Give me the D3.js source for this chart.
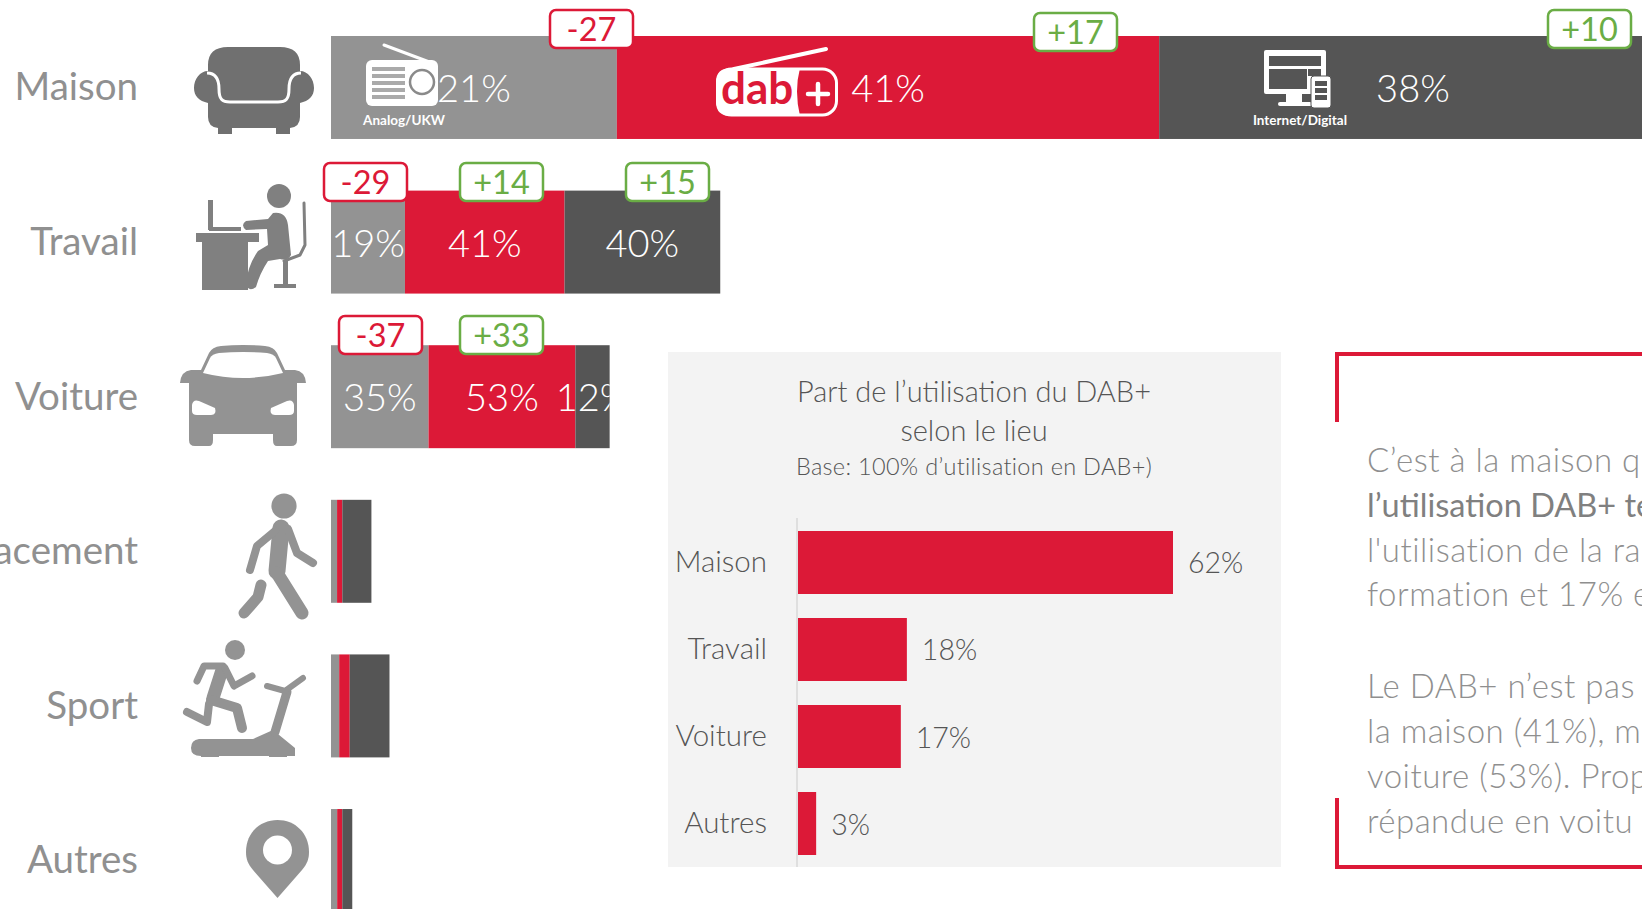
<!DOCTYPE html>
<html>
<head>
<meta charset="utf-8">
<script src="https://cdn.jsdelivr.net/npm/d3@7"></script>
<style>
    html, body { margin: 0; padding: 0; background: #fff; overflow: hidden; }
    svg { display: block; }
    text { font-family: Lato, "Open Sans", sans-serif; }
</style>
</head>
<body>
<div id="chart"></div>
<script>
// rows of the big stacked chart
var places = ["Maison", "Travail", "Voiture", "Déplacement", "Sport", "Autres"];
// length of each bar, share of all radio use
var totalUse = [62.8, 18.3, 13.1, 1.9, 2.75, 1];
// split of each bar in %
var analogShare = [21.4, 19, 35, 15, 14, 29];
var dabShare = [40.6, 41, 52.7, 13, 18, 24];
var internetShare = [38, 40, 12.3, 72, 68, 47];

// change badges: row, value
var badgeRows = [0, 0, 0, 1, 1, 1, 2, 2];
var badgeValues = [-27, 17, 10, -29, 14, 15, -37, 33];

// inset chart
var insetPlaces = ["Maison", "Travail", "Voiture", "Autres"];
var insetValues = [62, 18, 17, 3];

var titleLines = ["Part de l’utilisation du DAB+", "selon le lieu"];
var titleBase = "Base: 100% d’utilisation en DAB+)";

// text on the right, cut by the page edge
var noteLines = [
    { text: "C’est à la maison q", bold: false },
    { text: "l’utilisation DAB+ te", bold: true },
    { text: "l'utilisation de la ra", bold: false },
    { text: "formation et 17% e", bold: false },
    { text: "Le DAB+ n’est pas l", bold: false },
    { text: "la maison (41%), m", bold: false },
    { text: "voiture (53%). Prop", bold: false },
    { text: "répandue en voitu", bold: false }
];

(function() {

    var width = 1642,
        height = 909;

    var grey = "#939393",
        red = "#dc1937",
        dark = "#555555",
        green = "#6aad45",
        labelGrey = "#909090";

    var svg = d3.select("#chart")
        .append("svg")
        .attr("width", width)
        .attr("height", height);

    var defs = svg.append("defs");

    var barX = d3.scaleLinear().domain([0, 1]).range([331, 352.27]);
    var rowY = d3.scaleBand()
        .domain(places)
        .range([36, 912])
        .paddingInner(0.334);

    drawBars();
    drawIcons();
    drawBadges();
    drawInset();
    drawNote();

    function drawBars() {
        var rows = places.map(function(place, i) {
            return {
                place: place,
                total: totalUse[i],
                analog: analogShare[i],
                dab: dabShare[i],
                internet: internetShare[i]
            };
        });

        var keys = ["analog", "dab", "internet"];
        var colors = d3.scaleOrdinal().domain(keys).range([grey, red, dark]);

        // stack the % split, then scale by the length of the bar
        var series = d3.stack().keys(keys)
            .value(function(d, key) { return d[key] * d.total / 100; })(rows);

        var layers = svg.append("g")
            .selectAll("g")
            .data(series)
            .enter()
            .append("g")
            .attr("fill", function(d) { return colors(d.key); });

        layers.selectAll("rect")
            .data(function(d) { return d; })
            .enter()
            .append("rect")
            .attr("x", function(d) { return barX(d[0]); })
            .attr("y", function(d) { return rowY(d.data.place); })
            .attr("width", function(d) { return barX(d[1]) - barX(d[0]); })
            .attr("height", rowY.bandwidth());

        // the 12% of Voiture is cut at the end of its bar
        defs.append("clipPath")
            .attr("id", "voitureClip")
            .append("rect")
            .attr("x", 331)
            .attr("y", 300)
            .attr("width", barX(totalUse[2]) - 331)
            .attr("height", 200);

        // values only on the three big rows
        series.forEach(function(layer) {
            layer.slice(0, 3).forEach(function(d) {
                svg.append("text")
                    .attr("x", (barX(d[0]) + barX(d[1])) / 2)
                    .attr("y", rowY(d.data.place) + rowY.bandwidth() / 2 + 14.5)
                    .attr("text-anchor", "middle")
                    .attr("clip-path", d.data.place == "Voiture" ? "url(#voitureClip)" : null)
                    .attr("font-size", 38)
                    .attr("font-weight", 300)
                    .attr("fill", "#fff")
                    .text(Math.round(d.data[layer.key]) + "%");
            });
        });

        // place names
        var axis = d3.axisLeft(rowY).tickSize(0).tickPadding(0);
        var axisG = svg.append("g")
            .attr("transform", "translate(138,0.5)")
            .call(axis);
        axisG.select(".domain").remove();
        axisG.selectAll("text")
            .attr("dy", "0.32em")
            .attr("font-size", 38.5)
            .attr("font-family", "Lato")
            .attr("fill", labelGrey);
    }

    function drawBadges() {
        // left edge and top of each badge
        var badgeX = [550, 1034, 1548, 324, 460, 626, 339, 460];
        var badgeY = [10, 13, 10, 163, 163, 163, 316, 316];

        var badges = svg.append("g")
            .selectAll("g")
            .data(badgeValues)
            .enter()
            .append("g")
            .attr("transform", function(d, i) {
                return "translate(" + badgeX[i] + "," + badgeY[i] + ")";
            });

        badges.append("rect")
            .attr("width", 83)
            .attr("height", 38)
            .attr("rx", 6)
            .attr("fill", "#fff")
            .attr("stroke", function(d) { return d < 0 ? red : green; })
            .attr("stroke-width", 2.5);

        badges.append("text")
            .attr("x", 41.5)
            .attr("y", 30.5)
            .attr("text-anchor", "middle")
            .attr("font-size", 32.5)
            .attr("fill", function(d) { return d < 0 ? red : green; })
            .text(function(d) { return (d > 0 ? "+" : "-") + Math.abs(d); });
    }

    function drawInset() {
        var panel = svg.append("g");

        panel.append("rect")
            .attr("x", 668)
            .attr("y", 352)
            .attr("width", 613)
            .attr("height", 515)
            .attr("fill", "#f3f3f3");

        var x = d3.scaleLinear().domain([0, 62]).range([798, 1173]);
        var y = d3.scaleBand()
            .domain(insetPlaces)
            .range([531, 855])
            .paddingInner(0.276);

        panel.selectAll("text.title")
            .data(titleLines)
            .enter()
            .append("text")
            .attr("class", "title")
            .attr("x", 974)
            .attr("y", function(d, i) { return 402 + i * 39; })
            .attr("text-anchor", "middle")
            .attr("font-size", 29)
            .attr("font-weight", 300)
            .attr("fill", "#555")
            .text(function(d) { return d; });

        panel.append("text")
            .attr("x", 974)
            .attr("y", 475)
            .attr("text-anchor", "middle")
            .attr("font-size", 23.5)
            .attr("letter-spacing", 0.3)
            .attr("font-weight", 300)
            .attr("fill", "#555")
            .text(titleBase);

        panel.append("line")
            .attr("x1", 797)
            .attr("x2", 797)
            .attr("y1", 518)
            .attr("y2", 867)
            .attr("stroke", "#d9d9d9")
            .attr("stroke-width", 1.5);

        panel.selectAll("rect.bar")
            .data(insetValues)
            .enter()
            .append("rect")
            .attr("class", "bar")
            .attr("x", x(0))
            .attr("y", function(d, i) { return y(insetPlaces[i]); })
            .attr("width", function(d) { return x(d) - x(0); })
            .attr("height", y.bandwidth())
            .attr("fill", red);

        panel.selectAll("text.value")
            .data(insetValues)
            .enter()
            .append("text")
            .attr("class", "value")
            .attr("x", function(d) { return x(d) + 15; })
            .attr("y", function(d, i) { return y(insetPlaces[i]) + y.bandwidth() / 2 + 11; })
            .attr("font-size", 28.5)
            .attr("font-weight", 300)
            .attr("fill", "#555")
            .text(function(d) { return d + "%"; });

        var axisG = panel.append("g")
            .attr("transform", "translate(767,0)")
            .call(d3.axisLeft(y).tickSize(0).tickPadding(0));
        axisG.select(".domain").remove();
        axisG.selectAll("text")
            .attr("font-size", 29.5)
            .attr("font-family", "Lato")
            .attr("font-weight", 300)
            .attr("fill", "#555");
    }

    function drawNote() {
        // corners of the red bracket, the right side is off the page
        svg.append("path")
            .attr("d", "M1337 422V354H1642")
            .attr("fill", "none")
            .attr("stroke", red)
            .attr("stroke-width", 4);
        svg.append("path")
            .attr("d", "M1337 798V867H1642")
            .attr("fill", "none")
            .attr("stroke", red)
            .attr("stroke-width", 4);

        var lineY = [471.5, 516.5, 561.5, 605.5, 697.5, 742.5, 787.5, 832.5];

        svg.append("g")
            .selectAll("text")
            .data(noteLines)
            .enter()
            .append("text")
            .attr("x", 1367)
            .attr("y", function(d, i) { return lineY[i]; })
            .attr("font-size", function(d) { return d.bold ? 32.5 : 33; })
            .attr("letter-spacing", function(d) { return d.bold ? 0 : 0.5; })
            .attr("font-weight", function(d) { return d.bold ? 400 : 300; })
            .attr("fill", function(d) { return d.bold ? "#808080" : "#8f8f8f"; })
            .text(function(d) { return d.text; });
    }

    // the pictograms, drawn in their own little coordinates
    function icon(x, y, color) {
        return svg.append("g")
            .attr("transform", "translate(" + x + "," + y + ")")
            .attr("fill", color);
    }

    function limb(g, points, w, color) {
        g.append("path")
            .attr("d", d3.line()(points))
            .attr("fill", "none")
            .attr("stroke", color)
            .attr("stroke-width", w)
            .attr("stroke-linecap", "round")
            .attr("stroke-linejoin", "round");
    }

    function drawIcons() {
        var c = "#939393";

        // armchair
        var chair = icon(194, 47, "#707070");
        chair.append("path").attr("d", "M14 24V18Q14 0 34 0H86Q106 0 106 18V24C114 24 120 32 120 41C120 49 115 54 106 56V70Q106 80 96 81V87H82V81H38V87H24V81Q14 80 14 70V56C5 54 0 49 0 41C0 32 6 24 14 24Z");
        chair.append("path")
            .attr("d", "M13 26C22 26 25 33 25 42C25 52 28 55 36 55H84C92 55 95 52 95 42C95 33 98 26 107 26")
            .attr("fill", "none").attr("stroke", "#fff").attr("stroke-width", 3);

        // person at a desk
        var c2 = "#808080";
        var desk = icon(196, 183, c2);
        desk.append("rect").attr("x", 0).attr("y", 50).attr("width", 63).attr("height", 9);
        desk.append("rect").attr("x", 6).attr("y", 59).attr("width", 46).attr("height", 48);
        desk.append("rect").attr("x", 12).attr("y", 17).attr("width", 5).attr("height", 30);
        desk.append("rect").attr("x", 13).attr("y", 44).attr("width", 32).attr("height", 4);
        desk.append("circle").attr("cx", 83).attr("cy", 13).attr("r", 12);
        desk.append("path").attr("d", "M77 30Q90 28 92 42L95 72Q92 78 84 76L72 78Q64 90 60 104Q52 110 50 100Q52 82 62 68L72 62L71 46L50 47Q44 42 50 38L72 36Z");
        limb(desk, [[108, 20], [109, 62], [104, 72], [88, 78]], 3, c2);
        desk.append("rect").attr("x", 87).attr("y", 78).attr("width", 5).attr("height", 24);
        desk.append("rect").attr("x", 78).attr("y", 101).attr("width", 22).attr("height", 4);

        // car
        var car = icon(179, 345, c);
        car.append("path").attr("d", "M22 25L30 8Q33 2 42 1Q64 -1 86 1Q95 2 98 8L106 25H116Q126 26 127 38H118V95Q118 101 112 101H98Q94 101 94 95V89H34V95Q34 101 30 101H16Q10 101 10 95V38H1Q2 26 12 25Z");
        car.append("path").attr("d", "M24 28L31 13Q33 9 40 8Q64 6 88 8Q95 9 97 13L104 28Q64 38 24 28Z").attr("fill", "#fff");
        car.append("path").attr("d", "M13 60Q14 54 20 56L36 63Q38 70 32 70H18Q13 70 13 66Z").attr("fill", "#fff");
        car.append("path").attr("d", "M115 60Q114 54 108 56L92 63Q90 70 96 70H110Q115 70 115 66Z").attr("fill", "#fff");

        // walker
        var walker = icon(239, 493, c);
        walker.append("circle").attr("cx", 45).attr("cy", 13).attr("r", 12.6);
        limb(walker, [[42, 35], [38, 78]], 17, c);
        limb(walker, [[36, 38], [18, 53], [11, 77]], 8, c);
        limb(walker, [[49, 36], [58, 60], [74, 70]], 8, c);
        limb(walker, [[38, 80], [63, 120]], 13, c);
        limb(walker, [[22, 92], [19, 104], [5, 120]], 11, c);

        // runner on a treadmill
        var run = icon(183, 640, c);
        run.append("circle").attr("cx", 52).attr("cy", 10).attr("r", 10);
        limb(run, [[39, 30], [30, 58]], 13, c);
        limb(run, [[40, 26], [21, 26], [14, 41]], 7, c);
        limb(run, [[42, 28], [51, 46], [69, 36]], 7, c);
        limb(run, [[28, 60], [54, 68], [59, 88]], 10, c);
        limb(run, [[26, 64], [24, 82], [4, 72]], 8, c);
        run.append("path").attr("d", "M16 99H70L90 90L112 108V116H104V117H86V116H36V117H18V116Q8 116 8 108Q8 100 16 99Z");
        limb(run, [[92, 92], [104, 52]], 9, c);
        limb(run, [[84, 46], [102, 51], [120, 38]], 6, c);

        // pin
        var pin = icon(246, 820, c);
        pin.append("path").attr("d", "M31.5 78L7 50C2 44 0 39 0 32C0 13 14 0 31.5 0C49 0 63 13 63 32C63 39 61 44 56 50Z");
        pin.append("circle").attr("cx", 31.5).attr("cy", 30).attr("r", 14.5).attr("fill", "#fff");

        // radio logo on the grey bar
        var radio = icon(366, 44, "#fff");
        limb(radio, [[18, 1], [66, 19]], 3, "#fff");
        radio.append("rect").attr("x", 0).attr("y", 16).attr("width", 72).attr("height", 46).attr("rx", 6);
        [23, 30, 37, 44, 51].forEach(function(y) {
            radio.append("rect").attr("x", 6).attr("y", y).attr("width", 33).attr("height", 4).attr("fill", "#aaa");
        });
        radio.append("circle").attr("cx", 56).attr("cy", 38).attr("r", 12)
            .attr("fill", "#fff").attr("stroke", "#8a8a8a").attr("stroke-width", 2.5);
        svg.append("text")
            .attr("x", 404).attr("y", 125)
            .attr("text-anchor", "middle")
            .attr("font-size", 13.5).attr("font-weight", 700).attr("fill", "#fff")
            .text("Analog/UKW");

        // dab+ logo
        var dab = icon(716, 47, "#fff");
        limb(dab, [[18, 22], [110, 2]], 4, "#fff");
        dab.append("rect").attr("x", 1.5).attr("y", 22).attr("width", 119).attr("height", 46).attr("rx", 14)
            .attr("fill", red).attr("stroke", "#fff").attr("stroke-width", 3);
        dab.append("path").attr("d", "M15 21H84Q78 44 84 69H15Q0 69 0 55V35Q0 21 15 21Z");
        dab.append("text").attr("x", 5).attr("y", 57)
            .attr("font-size", 44).attr("font-weight", 700).attr("fill", red)
            .text("dab");
        limb(dab, [[92, 47], [112, 47]], 4.5, "#fff");
        limb(dab, [[102, 37], [102, 57]], 4.5, "#fff");

        // screen logo
        var screen = icon(1264, 50, "#fff");
        screen.append("rect").attr("x", 0).attr("y", 0).attr("width", 62).attr("height", 44).attr("rx", 2);
        screen.append("rect").attr("x", 5).attr("y", 6).attr("width", 52).attr("height", 10).attr("fill", dark);
        screen.append("rect").attr("x", 5).attr("y", 19).attr("width", 38).attr("height", 20).attr("fill", dark);
        screen.append("rect").attr("x", 44).attr("y", 19).attr("width", 13).attr("height", 7).attr("fill", dark);
        screen.append("rect").attr("x", 22).attr("y", 44).attr("width", 16).attr("height", 9);
        screen.append("rect").attr("x", 14).attr("y", 52).attr("width", 34).attr("height", 4).attr("rx", 2);
        screen.append("rect").attr("x", 47).attr("y", 26).attr("width", 20).attr("height", 32).attr("rx", 3).attr("stroke", dark);
        [31, 38, 45].forEach(function(y) {
            screen.append("rect").attr("x", 51).attr("y", y).attr("width", 12).attr("height", 5).attr("fill", dark);
        });
        svg.append("text")
            .attr("x", 1300).attr("y", 125)
            .attr("text-anchor", "middle")
            .attr("font-size", 13.5).attr("font-weight", 700).attr("fill", "#fff")
            .text("Internet/Digital");
    }

})();
</script>
</body>
</html>
